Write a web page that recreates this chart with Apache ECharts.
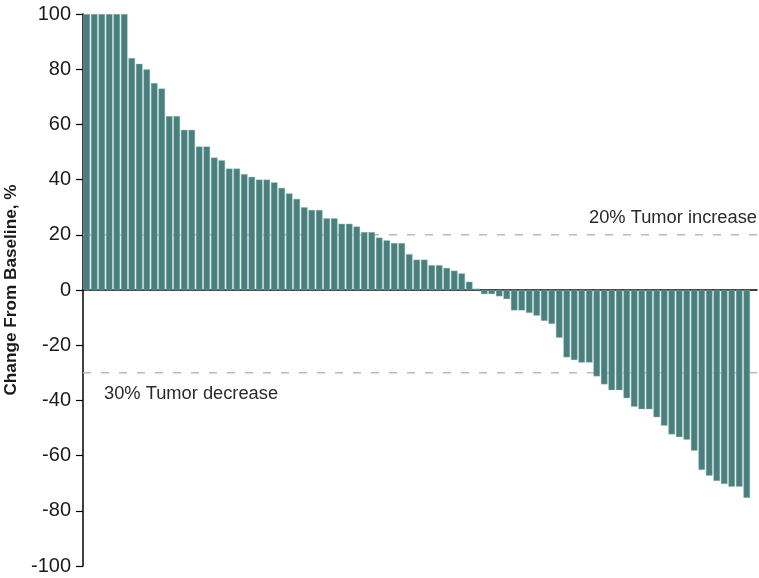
<!DOCTYPE html>
<html>
<head>
<meta charset="utf-8">
<script src="https://cdn.jsdelivr.net/npm/echarts@6/dist/echarts.min.js"></script>
<style>html,body{margin:0;padding:0;background:#fff}#c{width:759px;height:578px}</style>
</head>
<body>
<div id="c"></div>
<script>
var changes = [
  100, 100, 100, 100, 100, 100, 84, 82, 80, 75,
  73, 63, 63, 58, 58, 52, 52, 48, 47, 44,
  44, 42, 41, 40, 40, 39, 37, 35, 33, 30,
  29, 29, 26, 26, 24, 24, 23, 21, 21, 19,
  18, 17, 17, 13, 11, 11, 9, 9, 8, 7,
  6, 3, 0.5, -1.5, -1.5, -2.3, -3.3, -7.4, -7.4, -8.3,
  -9.3, -11.2, -12.3, -17.3, -24.4, -25.4, -26.3, -26.3, -31.3, -34.2,
  -36.3, -36.3, -39.2, -42.3, -43.2, -43.2, -46.1, -49.2, -52.3, -53.3,
  -54.2, -58.2, -65.2, -67.3, -69.2, -70.3, -71.3, -71.3, -75.3
];
var yTicks = [-100, -80, -60, -40, -20, 0, 20, 40, 60, 80, 100];
var thresholds = [20, -30];
var thresholdLabels = ['20% Tumor increase', '30% Tumor decrease'];

var xMin = 0.5, xMax = 90.37;
var barData = changes.map(function (v, i) { return [i + 1, v]; });
var font = 'Liberation Sans, Arial, Helvetica, sans-serif';

function refLine(v) {
  return {
    type: 'line', data: [[xMin, v], [xMax, v]], z: 1, silent: true,
    symbol: 'none', lineStyle: {type: [8, 10], color: '#bababa', width: 1.5}
  };
}

var chart = echarts.init(document.getElementById('c'), null, {renderer: 'canvas'});
chart.setOption({
  animation: false,
  backgroundColor: '#fff',
  grid: {left: 83, right: 2, top: 14, bottom: 12, containLabel: false, outerBoundsMode: 'none'},
  xAxis: {
    type: 'value', min: xMin, max: xMax,
    axisLine: {show: true, onZero: true, lineStyle: {color: '#000', width: 1.5}},
    axisTick: {show: false}, axisLabel: {show: false}, splitLine: {show: false}
  },
  yAxis: {
    type: 'value', min: yTicks[0], max: yTicks[yTicks.length - 1], interval: 20,
    name: 'Change From Baseline, %', nameLocation: 'middle', nameGap: 57,
    nameTextStyle: {fontFamily: font, fontSize: 17.2, fontWeight: 'bold', color: '#1a1a1a'},
    axisLine: {show: true, lineStyle: {color: '#000', width: 1.5}},
    axisTick: {show: true, length: 7, lineStyle: {color: '#000', width: 1.2}},
    axisLabel: {fontFamily: font, fontSize: 20, color: '#1a1a1a', margin: 12},
    splitLine: {show: false}
  },
  series: [
    refLine(thresholds[0]),
    refLine(thresholds[1]),
    {
      type: 'bar', data: barData, z: 3, barWidth: 6.6,
      itemStyle: {color: '#4b7f7d', borderColor: '#9cc7c2', borderWidth: 0.4},
      markLine: {
        symbol: 'none', silent: true, animation: false,
        lineStyle: {color: 'rgba(0,0,0,0)', width: 1, type: 'solid'},
        data: [
          {yAxis: thresholds[0], label: {show: true, formatter: thresholdLabels[0], position: 'insideEndTop', distance: [0, 8]}},
          {yAxis: thresholds[1], label: {show: true, formatter: thresholdLabels[1], position: 'insideStartBottom', distance: [21, 12]}}
        ],
        label: {show: true, fontFamily: font, fontSize: 18.3, color: '#2a2a2a'}
      }
    }
  ]
});
</script>
</body>
</html>
